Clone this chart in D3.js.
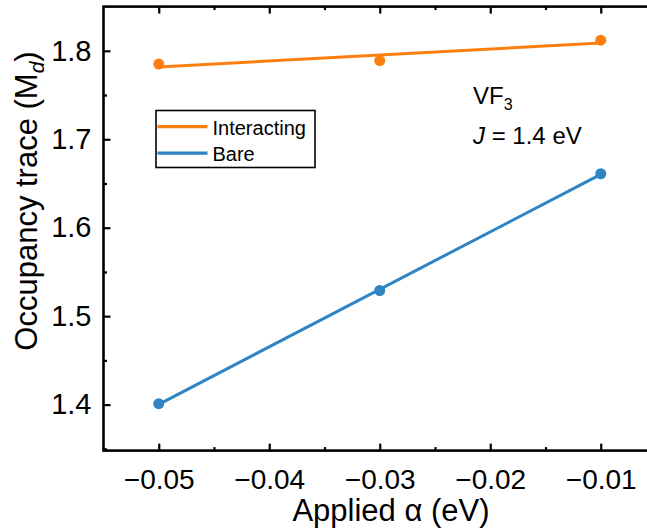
<!DOCTYPE html>
<html>
<head>
<meta charset="utf-8">
<script src="https://cdn.jsdelivr.net/npm/d3@7"></script>
<style>
  html, body { margin: 0; padding: 0; background: #fff; }
  svg { display: block; }
  svg text { font-family: "Liberation Sans", Arial, sans-serif; }
</style>
</head>
<body>
<svg id="chart" width="647" height="529"></svg>
<script>
// ---- data ----
const alphaValues = [-0.05, -0.03, -0.01];
const interacting = [1.785, 1.789, 1.812];
const bare = [1.401, 1.529, 1.661];
const seriesNames = ["Interacting", "Bare"];
const xTicks = [-0.05, -0.04, -0.03, -0.02, -0.01];
const xMinorTicks = [-0.045, -0.035, -0.025, -0.015, -0.005];
const yTicks = [1.4, 1.5, 1.6, 1.7, 1.8];
const yMinorTicks = [1.35, 1.45, 1.55, 1.65, 1.75, 1.85];
const xLimits = [-0.055, -0.005];
const yLimits = [1.348, 1.850];

const colors = { "Interacting": "#ff7f0e", "Bare": "#2f84c4" };
const FONT = "Liberation Sans, Arial, sans-serif";

const svg = d3.select("#chart");
const x = d3.scaleLinear().domain(xLimits).range([103.5, 656]);
const y = d3.scaleLinear().domain(yLimits).range([450.6, 6.6]);

const fmtX = v => d3.format(".2f")(v).replace("-", "\u2212");
const fmtY = d3.format(".1f");

// linear least-squares fit through the points
function fit(xs, ys) {
  const mx = d3.mean(xs), my = d3.mean(ys);
  let sxy = 0, sxx = 0;
  for (let i = 0; i < xs.length; i++) { sxy += (xs[i]-mx)*(ys[i]-my); sxx += (xs[i]-mx)*(xs[i]-mx); }
  const b = sxy / sxx, a = my - b*mx;
  const x0 = d3.min(xs), x1 = d3.max(xs);
  return [[x0, a + b*x0], [x1, a + b*x1]];
}

const series = [
  { name: "Interacting", values: interacting },
  { name: "Bare", values: bare }
];

// ---- axes ----
const axW = 2.6;
function styleAxis(g) {
  g.attr("font-family", FONT);
  g.select(".domain").remove();
  g.selectAll(".tick line").attr("stroke", "#000").attr("stroke-width", 2.2);
  g.selectAll(".tick text").attr("fill", "#000").attr("font-family", FONT);
}
const inX = v => v > xLimits[0] && v < xLimits[1];
const inY = v => v > yLimits[0] && v < yLimits[1];

// bottom major
svg.append("g").attr("transform", `translate(0,${y(yLimits[0])})`)
  .call(d3.axisBottom(x).tickValues(xTicks).tickSize(-7).tickPadding(19).tickFormat(fmtX))
  .call(styleAxis)
  .selectAll(".tick text").attr("font-size", 28);
// bottom minor
svg.append("g").attr("transform", `translate(0,${y(yLimits[0])})`)
  .call(d3.axisBottom(x).tickValues(xMinorTicks.filter(inX)).tickSize(-3.5).tickFormat(""))
  .call(styleAxis);
// top mirror ticks
svg.append("g").attr("transform", `translate(0,${y(yLimits[1])})`)
  .call(d3.axisTop(x).tickValues(xTicks).tickSize(-7).tickFormat(""))
  .call(styleAxis);
svg.append("g").attr("transform", `translate(0,${y(yLimits[1])})`)
  .call(d3.axisTop(x).tickValues(xMinorTicks.filter(inX)).tickSize(-3.5).tickFormat(""))
  .call(styleAxis);
// left major
svg.append("g").attr("transform", `translate(${x(xLimits[0])},0)`)
  .call(d3.axisLeft(y).tickValues(yTicks).tickSize(-7).tickPadding(12).tickFormat(fmtY))
  .call(styleAxis)
  .selectAll(".tick text").attr("font-size", 29);
// left minor
svg.append("g").attr("transform", `translate(${x(xLimits[0])},0)`)
  .call(d3.axisLeft(y).tickValues(yMinorTicks.filter(inY)).tickSize(-3.5).tickFormat(""))
  .call(styleAxis);

// frame
svg.append("rect")
  .attr("x", x(xLimits[0])).attr("y", y(yLimits[1]))
  .attr("width", x(xLimits[1]) - x(xLimits[0]))
  .attr("height", y(yLimits[0]) - y(yLimits[1]))
  .attr("fill", "none").attr("stroke", "#000").attr("stroke-width", axW);

// ---- series ----
const line = d3.line().x(d => x(d[0])).y(d => y(d[1]));
series.forEach(s => {
  const c = colors[s.name];
  svg.append("path").datum(fit(alphaValues, s.values))
    .attr("d", line).attr("fill", "none").attr("stroke", c).attr("stroke-width", 3);
  svg.append("g").selectAll("circle").data(alphaValues.map((a, i) => [a, s.values[i]]))
    .join("circle")
    .attr("cx", d => x(d[0])).attr("cy", d => y(d[1])).attr("r", 5.5).attr("fill", c);
});

// ---- legend ----
const lg = svg.append("g");
lg.append("rect").attr("x", 156).attr("y", 110.5).attr("width", 159).attr("height", 57)
  .attr("fill", "#fff").attr("stroke", "#000").attr("stroke-width", 1.6);
seriesNames.forEach((name, i) => {
  const yy = 126.7 + i * 26.5;
  lg.append("line").attr("x1", 157.5).attr("x2", 207.5).attr("y1", yy).attr("y2", yy)
    .attr("stroke", colors[name]).attr("stroke-width", 3.2);
  lg.append("text").attr("x", 212.5).attr("y", yy + 8).attr("font-size", 20).attr("fill", "#000").text(name);
});

// ---- annotation ----
const ann = svg.append("text").attr("x", 473).attr("y", 104).attr("font-size", 24).attr("fill", "#000");
ann.append("tspan").text("VF");
ann.append("tspan").attr("font-size", 16).attr("dy", 6).text("3");
const ann2 = svg.append("text").attr("x", 473).attr("y", 144).attr("font-size", 24).attr("fill", "#000");
ann2.append("tspan").attr("font-style", "italic").text("J");
ann2.append("tspan").text(" = 1.4 eV");

// ---- axis titles ----
svg.append("text").attr("x", 391).attr("y", 521).attr("text-anchor", "middle")
  .attr("font-size", 31).attr("fill", "#000").text("Applied α (eV)");
const yt = svg.append("text").attr("transform", "translate(37,201) rotate(-90)")
  .attr("text-anchor", "middle").attr("font-size", 31).attr("fill", "#000");
yt.append("tspan").text("Occupancy trace (M");
yt.append("tspan").attr("font-size", 21).attr("font-style", "italic").attr("dy", 7).text("d");
yt.append("tspan").attr("dy", -7).text(")");
</script>
</body>
</html>
